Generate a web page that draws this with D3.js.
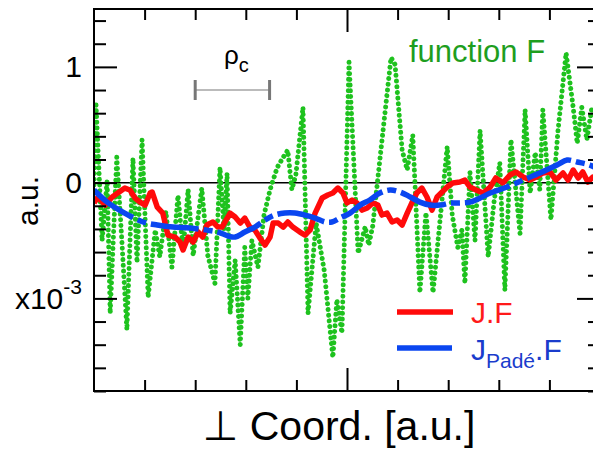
<!DOCTYPE html>
<html><head><meta charset="utf-8">
<script src="https://cdn.jsdelivr.net/npm/d3@7"></script>
<style>
html,body{margin:0;padding:0;background:#fff;}
svg{display:block;font-family:"Liberation Sans",Arial,"DejaVu Sans",sans-serif;}
</style></head>
<body>
<svg id="chart" width="593" height="451"></svg>
<script>
// ---- data (x in arbitrary units 0..10, y in units of 1e-3 a.u.) ----
const greenX = [0,0.04,0.16,0.26,0.32,0.45,0.55,0.65,0.77,0.85,0.95,1.07,1.21,1.30,1.42,1.54,1.66,1.76,1.86,1.96,2.13,2.25,2.39,2.49,2.57,2.63,2.69,2.79,2.89,2.98,3.04,3.12,3.24,3.36,3.48,3.62,3.74,3.83,3.91,3.99,4.13,4.23,4.39,4.55,4.72,4.80,4.90,5.04,5.22,5.36,5.43,5.51,5.65,5.87,5.95,6.09,6.19,6.30,6.44,6.56,6.70,6.84,6.98,7.08,7.19,7.27,7.33,7.43,7.53,7.63,7.79,7.91,8.02,8.12,8.24,8.42,8.52,8.62,8.72,8.81,8.87,9.03,9.17,9.33,9.47,9.55,9.64,9.74,9.84,10];
const greenY = [-0.02,0.67,-0.50,0.02,-1.13,0.22,-0.50,-1.27,0.21,-0.69,0.37,-0.99,-0.41,-0.64,-0.25,-0.73,-0.11,-0.58,-0.06,-0.63,-0.05,-0.63,-0.87,0.13,-0.41,0.08,-1.13,-0.67,-1.40,-0.56,-1.00,-0.50,-0.73,-0.28,-0.06,0.13,0.22,0.28,-0.06,0.07,0.65,-1.13,-0.35,-0.76,-1.51,-1.01,-1.30,1.04,-0.61,-0.38,-0.54,-0.37,0.20,1.08,1.02,0.28,0.11,0.41,-0.95,-0.26,-0.95,-0.32,0.31,-0.28,-0.56,-0.41,-0.87,0.09,-0.50,0.45,-0.64,-0.15,0.17,-0.93,0.37,-0.44,0.63,-0.09,0.26,-0.06,0.63,-0.32,0.45,1.12,0.65,0.34,0.65,0.37,0.65,0.54];

const redX = [0,0.08,0.22,0.36,0.47,0.61,0.71,0.81,0.91,1.01,1.11,1.15,1.25,1.36,1.46,1.60,1.70,1.76,1.86,1.96,2.06,2.15,2.23,2.35,2.45,2.53,2.69,2.79,2.89,2.98,3.08,3.18,3.28,3.38,3.48,3.54,3.64,3.74,3.83,3.93,4.07,4.17,4.27,4.37,4.51,4.62,4.72,4.82,4.92,5.00,5.10,5.20,5.30,5.40,5.51,5.61,5.69,5.79,5.89,5.99,6.09,6.19,6.28,6.38,6.48,6.58,6.68,6.78,6.88,6.98,7.09,7.23,7.33,7.43,7.55,7.69,7.83,7.94,8.08,8.22,8.34,8.48,8.62,8.74,8.87,9.01,9.13,9.27,9.37,9.47,9.57,9.66,9.76,9.86,10];
const redY = [-0.176,-0.124,-0.194,-0.124,-0.090,-0.047,-0.064,-0.133,-0.168,-0.194,-0.090,-0.081,-0.211,-0.263,-0.453,-0.470,-0.513,-0.582,-0.470,-0.513,-0.427,-0.470,-0.366,-0.340,-0.384,-0.384,-0.263,-0.297,-0.349,-0.306,-0.384,-0.410,-0.479,-0.539,-0.470,-0.349,-0.349,-0.384,-0.340,-0.384,-0.427,-0.453,-0.410,-0.263,-0.133,-0.107,-0.090,-0.047,-0.090,-0.176,-0.150,-0.176,-0.237,-0.219,-0.176,-0.194,-0.280,-0.263,-0.340,-0.323,-0.366,-0.263,-0.176,-0.090,-0.047,-0.124,-0.237,-0.124,-0.081,-0.038,-0.003,0.005,0.022,-0.038,-0.064,-0.090,-0.038,0.040,-0.003,0.066,0.092,0.048,0.022,0.048,0.083,0.092,0.022,0.083,0.022,0.109,0.040,0.092,0.005,0.048,0.040];

const blueX = [0,0.26,0.57,0.97,1.25,1.56,1.90,2.23,2.45,2.65,2.79,2.98,3.18,3.38,3.57,3.77,3.97,4.17,4.37,4.57,4.70,4.86,5.06,5.26,5.45,5.65,5.85,6.05,6.25,6.44,6.64,6.84,7.04,7.23,7.43,7.63,7.83,8.16,8.48,8.81,9.15,9.35,9.55,9.80,10];
const blueY = [-0.064,-0.168,-0.254,-0.340,-0.366,-0.384,-0.392,-0.410,-0.427,-0.461,-0.470,-0.427,-0.384,-0.323,-0.280,-0.263,-0.263,-0.280,-0.306,-0.340,-0.340,-0.306,-0.263,-0.194,-0.150,-0.090,-0.064,-0.081,-0.124,-0.168,-0.194,-0.194,-0.176,-0.176,-0.168,-0.133,-0.090,-0.038,0.022,0.083,0.152,0.195,0.178,0.152,0.109];

const yMajorTicks = [-1, 0, 1];
const yMajorLabels = ["x10", "0", "1"];
const yMinorTicks = [-1.8,-1.6,-1.4,-1.2,-0.8,-0.6,-0.4,-0.2,0.2,0.4,0.6,0.8,1.2,1.4];
const xMinorTicks = [1,2,3,4,6,7,8,9];
const xMajorTicks = [5];
const rhoBar = [2.0, 3.47];

// ---- layout ----
const L = 94, R = 600, T = 9, B = 391;
const svg = d3.select("#chart");
const x = d3.scaleLinear().domain([0, 10]).range([L, R]);
const y = d3.scaleLinear().domain([-1.8, 1.5]).range([B, T]);

svg.append("defs").append("clipPath").attr("id", "clip")
  .append("rect").attr("x", L).attr("y", T).attr("width", R - L).attr("height", B - T);

const plot = svg.append("g").attr("clip-path", "url(#clip)");

// zero line
plot.append("line").attr("x1", x(0)).attr("x2", x(10)).attr("y1", y(0)).attr("y2", y(0))
  .attr("stroke", "#000").attr("stroke-width", 1.5);

const toPts = (xs, ys) => xs.map((v, i) => [v, ys[i]]);
const lin = d3.line().x(d => x(d[0])).y(d => y(d[1]));
const smooth = d3.line().x(d => x(d[0])).y(d => y(d[1])).curve(d3.curveCatmullRom.alpha(0.5));

plot.append("path").datum(toPts(greenX, greenY)).attr("d", lin)
  .attr("fill", "none").attr("stroke", "#1ec21e").attr("stroke-width", 5)
  .attr("stroke-linecap", "round").attr("stroke-dasharray", "0.01 5.7");

plot.append("path").datum(toPts(redX, redY)).attr("d", lin)
  .attr("fill", "none").attr("stroke", "#ff0a0a").attr("stroke-width", 5.5)
  .attr("stroke-linejoin", "round");

plot.append("path").datum(toPts(blueX, blueY)).attr("d", smooth)
  .attr("fill", "none").attr("stroke", "#0a46f0").attr("stroke-width", 5.5)
  .attr("stroke-dasharray", "48 5 9 5");

// ---- axes ----
function styleAxis(g) {
  g.select(".domain").remove();
  g.selectAll(".tick line").attr("stroke", "#000").attr("stroke-width", 2);
}
// left
svg.append("g").attr("transform", `translate(${L},0)`)
  .call(d3.axisLeft(y).tickValues(yMinorTicks).tickSizeInner(-12).tickSizeOuter(0).tickFormat(""))
  .call(styleAxis);
const leftMajor = svg.append("g").attr("transform", `translate(${L},0)`)
  .call(d3.axisLeft(y).tickValues(yMajorTicks).tickSizeInner(-23).tickSizeOuter(0).tickPadding(12)
    .tickFormat(d => yMajorLabels[yMajorTicks.indexOf(d)]))
  .call(styleAxis);
leftMajor.selectAll(".tick text").attr("font-size", 30).attr("fill", "#000")
  .attr("font-family", "Liberation Sans, Arial, sans-serif");
// exponent on the -1 label
leftMajor.selectAll(".tick").filter(d => d === -1).select("text")
  .append("tspan").attr("font-size", 21).attr("dy", -15).text("-3");
leftMajor.selectAll(".tick").filter(d => d === -1).select("text")
  .attr("text-anchor", "end").attr("x", -12);

// right
svg.append("g").attr("transform", `translate(${R},0)`)
  .call(d3.axisRight(y).tickValues(yMinorTicks).tickSizeInner(-12).tickSizeOuter(0).tickFormat(""))
  .call(styleAxis);
svg.append("g").attr("transform", `translate(${R},0)`)
  .call(d3.axisRight(y).tickValues(yMajorTicks).tickSizeInner(-23).tickSizeOuter(0).tickFormat(""))
  .call(styleAxis);
// top
svg.append("g").attr("transform", `translate(0,${T})`)
  .call(d3.axisTop(x).tickValues(xMinorTicks).tickSizeInner(-11).tickSizeOuter(0).tickFormat(""))
  .call(styleAxis);
svg.append("g").attr("transform", `translate(0,${T})`)
  .call(d3.axisTop(x).tickValues(xMajorTicks).tickSizeInner(-23).tickSizeOuter(0).tickFormat(""))
  .call(styleAxis);
// bottom
svg.append("g").attr("transform", `translate(0,${B})`)
  .call(d3.axisBottom(x).tickValues(xMinorTicks).tickSizeInner(-11).tickSizeOuter(0).tickFormat(""))
  .call(styleAxis);
svg.append("g").attr("transform", `translate(0,${B})`)
  .call(d3.axisBottom(x).tickValues(xMajorTicks).tickSizeInner(-23).tickSizeOuter(0).tickFormat(""))
  .call(styleAxis);

// frame
svg.append("rect").attr("x", L).attr("y", T).attr("width", R - L).attr("height", B - T)
  .attr("fill", "none").attr("stroke", "#000").attr("stroke-width", 2);

// axis titles
svg.append("text").attr("transform", `translate(38,201) rotate(-90)`)
  .attr("text-anchor", "middle").attr("font-size", 30).attr("fill", "#000").text("a.u.");
svg.append("text").attr("x", 339).attr("y", 440).attr("text-anchor", "middle")
  .attr("font-size", 41).attr("fill", "#000").text("\u22A5 Coord. [a.u.]");

// function F label
svg.append("text").attr("x", 409).attr("y", 62).attr("font-size", 31).attr("fill", "#1e9e1e")
  .text("function F");

// rho_c bar
const rb = svg.append("g");
rb.append("line").attr("x1", x(rhoBar[0])).attr("x2", x(rhoBar[1])).attr("y1", 90).attr("y2", 90)
  .attr("stroke", "#bbb").attr("stroke-width", 2);
rhoBar.forEach(v => rb.append("line").attr("x1", x(v)).attr("x2", x(v)).attr("y1", 80).attr("y2", 100)
  .attr("stroke", "#777").attr("stroke-width", 3));
const rt = svg.append("text").attr("x", 224).attr("y", 64).attr("font-size", 26).attr("fill", "#000");
rt.append("tspan").text("\u03C1");
rt.append("tspan").attr("font-size", 20).attr("dy", 8).text("c");

// legend
svg.append("line").attr("x1", 397).attr("x2", 453).attr("y1", 312).attr("y2", 312)
  .attr("stroke", "#ff0a0a").attr("stroke-width", 5.5);
svg.append("text").attr("x", 471).attr("y", 323).attr("font-size", 30).attr("fill", "#ff1a1a").text("J.F");
svg.append("line").attr("x1", 397).attr("x2", 452).attr("y1", 348).attr("y2", 348)
  .attr("stroke", "#0a46f0").attr("stroke-width", 5.5);
const lt = svg.append("text").attr("x", 471).attr("y", 360).attr("font-size", 30).attr("fill", "#1a3ccc");
lt.append("tspan").text("J");
lt.append("tspan").attr("font-size", 21).attr("dy", 8).text("Padé");
lt.append("tspan").attr("dy", -8).text(".F");
</script>
</body></html>
